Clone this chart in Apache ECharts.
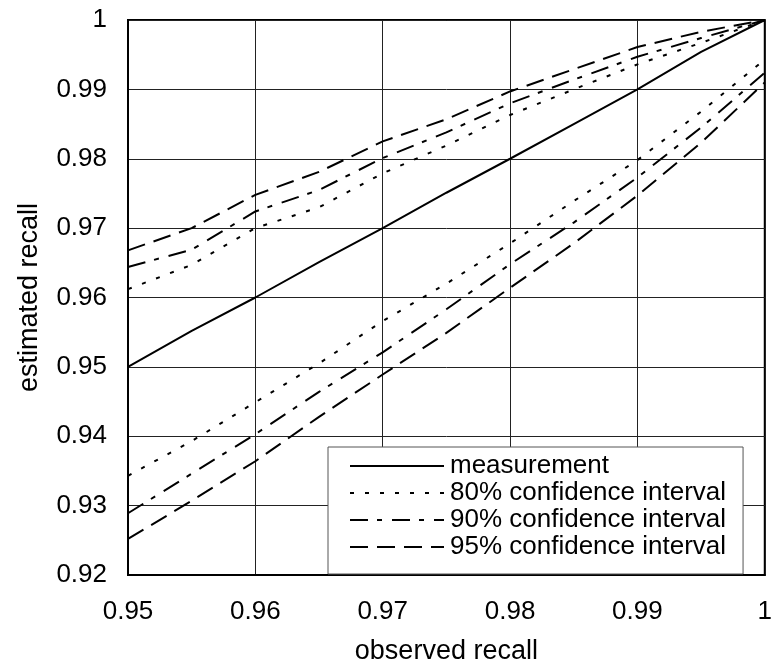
<!DOCTYPE html>
<html>
<head>
<meta charset="utf-8">
<script src="https://cdn.jsdelivr.net/npm/echarts@6/dist/echarts.min.js"></script>
<style>
  html, body { margin: 0; padding: 0; background: #fff; }
  #chart { width: 775px; height: 670px; }
</style>
</head>
<body>
<div id="chart"></div>
<script>
// observed recall (x)
var observed = [0.95, 0.955, 0.96, 0.965, 0.97, 0.975, 0.98, 0.985, 0.99, 0.995, 1.0];

// estimated recall (y)
var measurement = [0.95, 0.9552, 0.96, 0.9651, 0.97, 0.9751, 0.98, 0.985, 0.99, 0.9954, 1.0];
var ci80Upper = [0.9612, 0.9647, 0.970, 0.973, 0.9779, 0.9819, 0.9863, 0.990, 0.9936, 0.9967, 1.0];
var ci90Upper = [0.9644, 0.9669, 0.9724, 0.9755, 0.9801, 0.9838, 0.988, 0.9914, 0.9947, 0.9974, 1.0];
var ci95Upper = [0.9668, 0.970, 0.9748, 0.9781, 0.9825, 0.9857, 0.9897, 0.9929, 0.9961, 0.9983, 1.0];
var ci80Lower = [0.9343, 0.9393, 0.9449, 0.9505, 0.9566, 0.962, 0.9678, 0.9739, 0.9798, 0.9868, 0.9943];
var ci90Lower = [0.9289, 0.9346, 0.9403, 0.9464, 0.9521, 0.9583, 0.9648, 0.9708, 0.9773, 0.9845, 0.9924];
var ci95Lower = [0.9252, 0.9307, 0.9364, 0.9428, 0.9489, 0.9549, 0.9614, 0.9678, 0.9747, 0.9823, 0.991];

var names = ['measurement', '80% confidence interval', '90% confidence interval', '95% confidence interval'];

var FONT = 'Liberation Sans, Arial, sans-serif';

function pairs(ys) {
    return observed.map(function (x, i) { return [x, ys[i]]; });
}

function line(name, ys, dash) {
    return {
        name: name,
        type: 'line',
        data: pairs(ys),
        symbol: 'none',
        smooth: false,
        silent: true,
        itemStyle: { color: '#000' },
        lineStyle: { color: '#000', width: 2, type: dash }
    };
}

var dot = [4, 11];
var dashDot = [18, 9, 5, 10];
var dash = [18, 9];

var myChart = echarts.init(document.getElementById('chart'));

var option = {
    animation: false,
    backgroundColor: '#fff',
    textStyle: { fontFamily: FONT, color: '#000' },
    grid: {
        left: 128,
        top: 20,
        right: -1,
        bottom: 91,
        show: true,
        borderColor: '#000',
        borderWidth: 2
    },
    legend: {
        data: names,
        orient: 'vertical',
        left: 328,
        top: 447,
        itemWidth: 94,
        itemHeight: 14,
        itemGap: 1,
        padding: [6, 17, 14, 21],
        backgroundColor: '#fff',
        borderColor: '#555',
        borderWidth: 1,
        borderRadius: 0,
        selectedMode: false,
        itemStyle: { opacity: 0 },
        lineStyle: { width: 2, color: '#000', opacity: 1 },
        textStyle: { fontFamily: FONT, fontSize: 26, color: '#000', lineHeight: 26, padding: [0, 0, 0, 1] }
    },
    xAxis: {
        type: 'value',
        min: 0.95,
        max: 1,
        interval: 0.01,
        name: 'observed recall',
        nameLocation: 'middle',
        nameGap: 63,
        nameTextStyle: { fontFamily: FONT, fontSize: 27, color: '#000' },
        axisLine: { show: true, lineStyle: { color: '#000', width: 2 } },
        axisTick: { show: false },
        axisLabel: { fontFamily: FONT, fontSize: 26, color: '#000', margin: 24 },
        splitLine: { show: true, lineStyle: { color: '#222', width: 1 } }
    },
    yAxis: {
        type: 'value',
        min: 0.92,
        max: 1,
        interval: 0.01,
        name: 'estimated recall',
        nameLocation: 'middle',
        nameGap: 85,
        nameTextStyle: { fontFamily: FONT, fontSize: 27, color: '#000' },
        axisLine: { show: true, lineStyle: { color: '#000', width: 2 } },
        axisTick: { show: false },
        axisLabel: { fontFamily: FONT, fontSize: 26, color: '#000', margin: 21 },
        splitLine: { show: true, lineStyle: { color: '#222', width: 1 } }
    },
    series: [
        line(names[0], measurement, 'solid'),
        line(names[1], ci80Upper, dot),
        line(names[1], ci80Lower, dot),
        line(names[2], ci90Upper, dashDot),
        line(names[2], ci90Lower, dashDot),
        line(names[3], ci95Upper, dash),
        line(names[3], ci95Lower, dash)
    ]
};

myChart.setOption(option);
</script>
</body>
</html>
